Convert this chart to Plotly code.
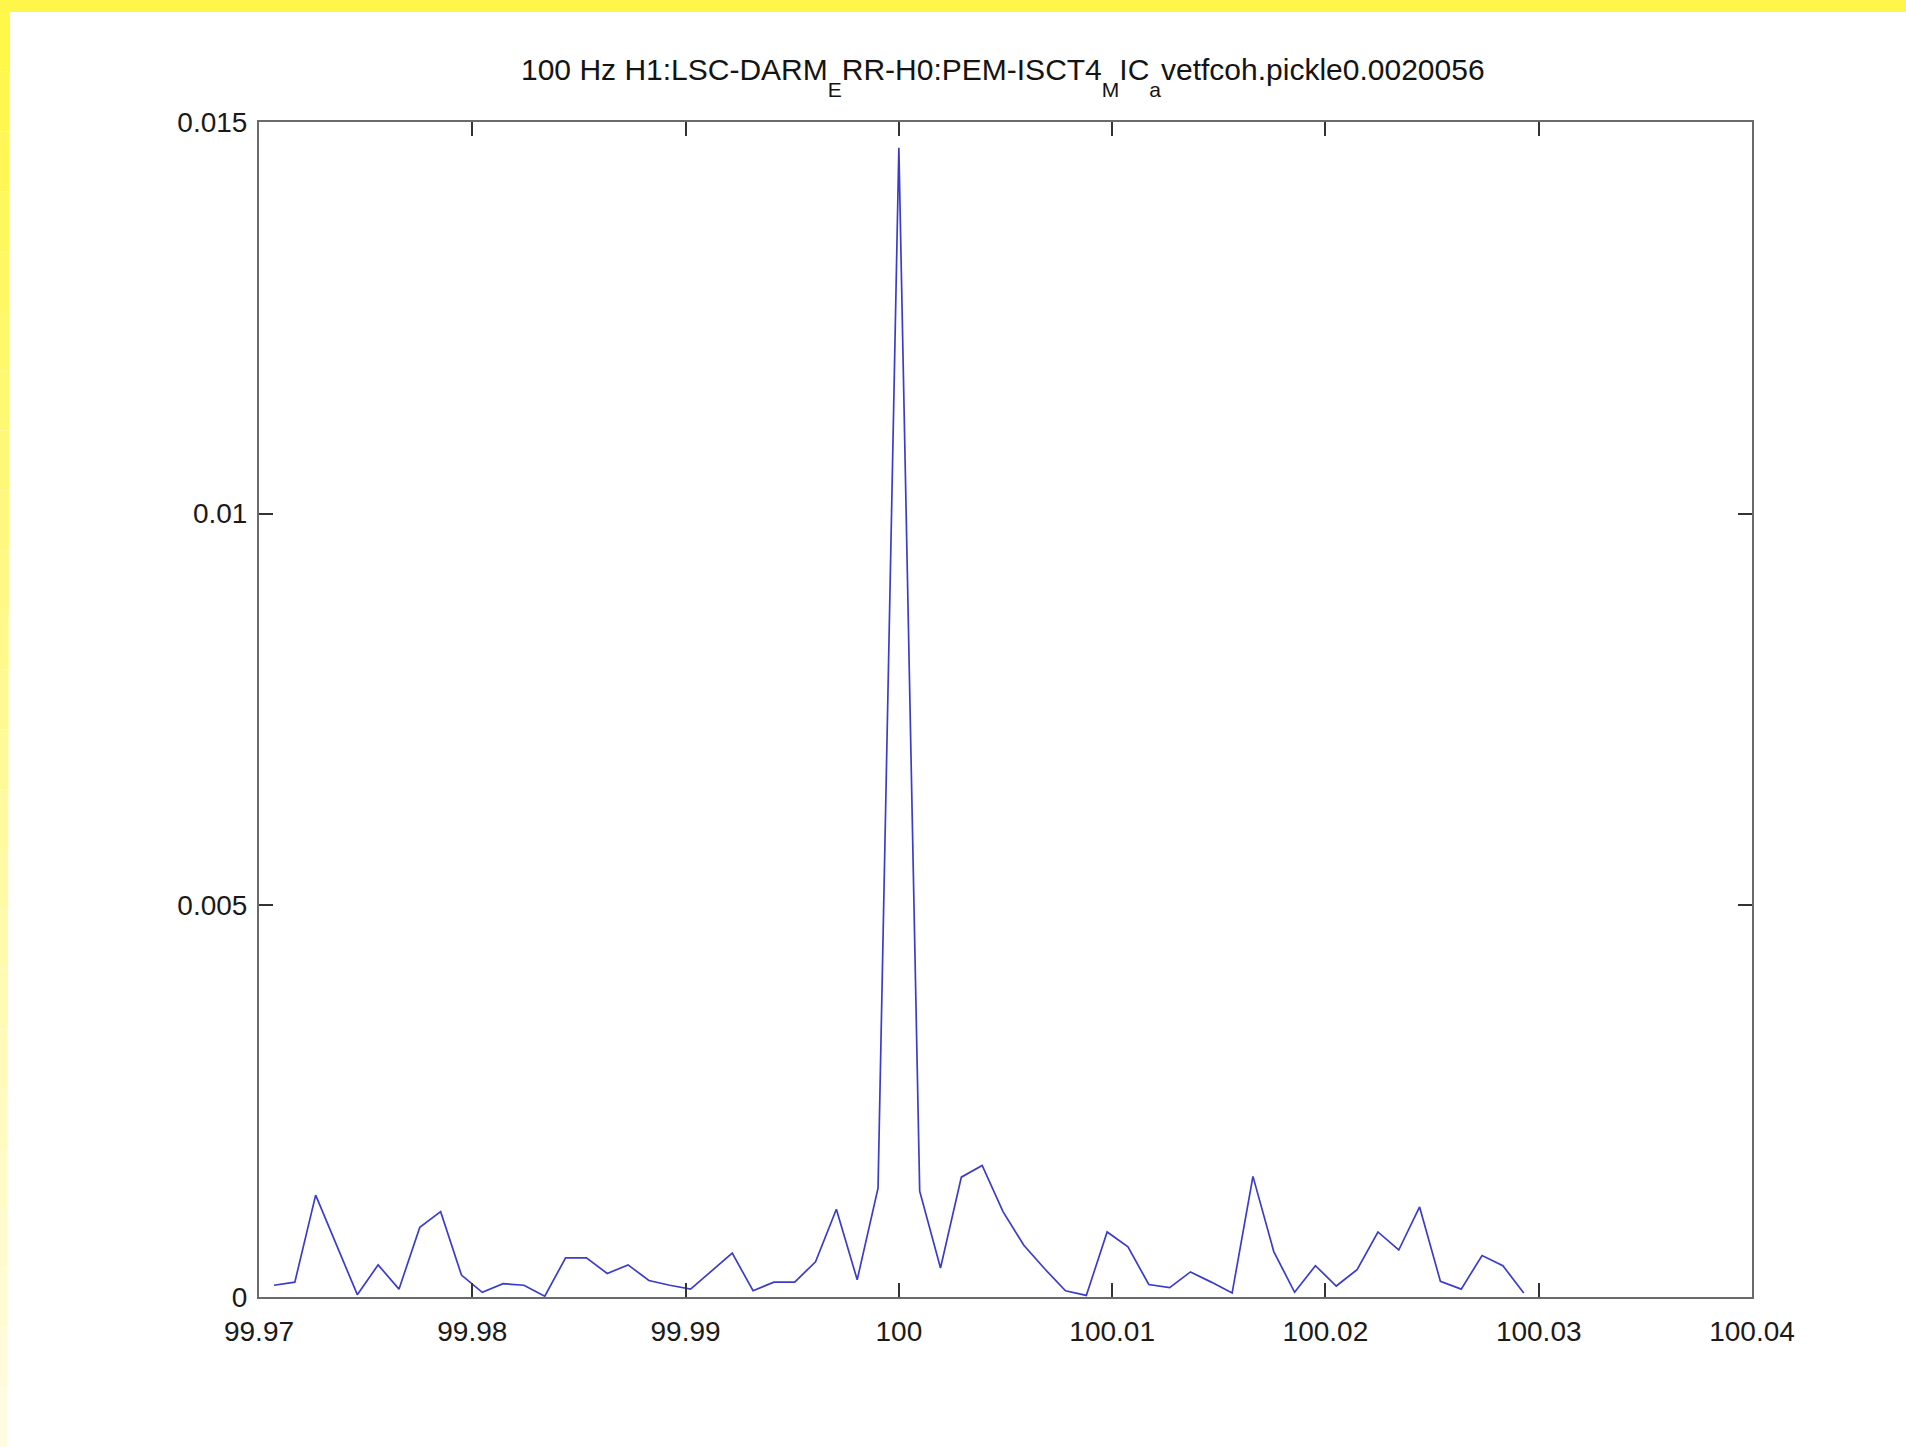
import plotly.graph_objects as go

# Frequency bins (Hz), spacing 1/1024 Hz around 100 Hz
freq = [99.9707031, 99.9716797, 99.9726563, 99.9736328, 99.9746094, 99.9755859,
        99.9765625, 99.9775391, 99.9785156, 99.9794922, 99.9804688, 99.9814453,
        99.9824219, 99.9833984, 99.9843750, 99.9853516, 99.9863281, 99.9873047,
        99.9882813, 99.9892578, 99.9902344, 99.9912109, 99.9921875, 99.9931641,
        99.9941406, 99.9951172, 99.9960938, 99.9970703, 99.9980469, 99.9990234,
        100.0000000,
        100.0009766, 100.0019531, 100.0029297, 100.0039063, 100.0048828, 100.0058594,
        100.0068359, 100.0078125, 100.0087891, 100.0097656, 100.0107422, 100.0117188,
        100.0126953, 100.0136719, 100.0146484, 100.0156250, 100.0166016, 100.0175781,
        100.0185547, 100.0195313, 100.0205078, 100.0214844, 100.0224609, 100.0234375,
        100.0244141, 100.0253906, 100.0263672, 100.0273438, 100.0283203, 100.0292969]

# Coherence values (units of 1e-3)
coh_milli = [0.15, 0.19, 1.30, 0.66, 0.03, 0.41, 0.10, 0.89, 1.09, 0.28,
             0.06, 0.17, 0.15, 0.01, 0.50, 0.50, 0.30, 0.41, 0.21, 0.15,
             0.10, 0.33, 0.56, 0.08, 0.19, 0.19, 0.45, 1.12, 0.22, 1.39,
             14.67,
             1.35, 0.37, 1.53, 1.68, 1.09, 0.66, 0.36, 0.08, 0.02, 0.83,
             0.64, 0.16, 0.12, 0.32, 0.19, 0.05, 1.54, 0.58, 0.06, 0.40,
             0.14, 0.35, 0.83, 0.60, 1.15, 0.20, 0.10, 0.53, 0.40, 0.05]
coh = [v * 1e-3 for v in coh_milli]

x_ticks = [99.97, 99.98, 99.99, 100.0, 100.01, 100.02, 100.03, 100.04]
x_tick_text = ["99.97", "99.98", "99.99", "100", "100.01", "100.02", "100.03", "100.04"]
y_ticks = [0, 0.005, 0.01, 0.015]
y_tick_text = ["0", "0.005", "0.01", "0.015"]

W, H = 1906, 1447
L, R, T, B = 259, 1752, 122, 1297

FONT = "Liberation Sans, Arial, sans-serif"
sub = "<span style='font-size:21px;baseline-shift:-17px'>{}</span>"
title_text = ("100 Hz H1:LSC-DARM" + sub.format("E") + "RR-H0:PEM-ISCT4" + sub.format("M")
              + "IC" + sub.format("a") + "vetfcoh.pickle0.0020056")

fig = go.Figure()
fig.add_trace(go.Scatter(x=freq, y=coh, mode="lines",
                         line=dict(color="#3c3ccc", width=1.7), showlegend=False,
                         hoverinfo="skip"))

pw, ph = R - L, B - T


def px_x(p):
    return (p - L) / pw


def px_y(p):
    return (B - p) / ph


shapes = []
# top yellow band
shapes.append(dict(type="rect", xref="paper", yref="paper", x0=px_x(0), x1=px_x(W),
                   y0=px_y(12), y1=px_y(0), fillcolor="#fff64a", line=dict(width=0), layer="below"))
# left band with fading yellow
n = 24
for i in range(n):
    t = i / (n - 1)
    r, g, b = 255, int(247 + (252 - 247) * t), int(74 + (225 - 74) * t)
    y0p = 12 + (H - 12) * i / n
    y1p = 12 + (H - 12) * (i + 1) / n
    wpx = 10 - 3 * t
    shapes.append(dict(type="rect", xref="paper", yref="paper", x0=px_x(0), x1=px_x(wpx),
                       y0=px_y(y1p), y1=px_y(y0p), fillcolor=f"rgb({r},{g},{b})",
                       line=dict(width=0), layer="below"))

fig.update_layout(
    width=W, height=H,
    margin=dict(l=L, r=W - R, t=T, b=H - B, pad=0),
    paper_bgcolor="white", plot_bgcolor="white",
    shapes=shapes,
    font=dict(family=FONT, size=28, color="#1a1a1a"),
    annotations=[dict(text=title_text, xref="paper", yref="paper", x=0.4985, y=px_y(95),
                      xanchor="center", yanchor="bottom", showarrow=False,
                      font=dict(family=FONT, size=30, color="#141414"), yshift=-8)],
)
fig.update_xaxes(range=[99.97, 100.04], tickvals=x_ticks, ticktext=x_tick_text,
                 ticks="inside", ticklen=14, tickwidth=1.5, tickcolor="#333",
                 showline=True, linecolor="#6a6a6a", linewidth=2, mirror="ticks",
                 showgrid=False, zeroline=False, ticklabelstandoff=8,
                 tickfont=dict(family=FONT, size=28, color="#1a1a1a"))
fig.update_yaxes(range=[0, 0.015], tickvals=y_ticks, ticktext=y_tick_text,
                 ticks="inside", ticklen=14, tickwidth=1.5, tickcolor="#333",
                 showline=True, linecolor="#6a6a6a", linewidth=2, mirror="ticks",
                 showgrid=False, zeroline=False, ticklabelstandoff=4,
                 tickfont=dict(family=FONT, size=28, color="#1a1a1a"))

fig.write_html("out.html", config={"displayModeBar": False},
               post_script="document.body.style.margin='0px';")
